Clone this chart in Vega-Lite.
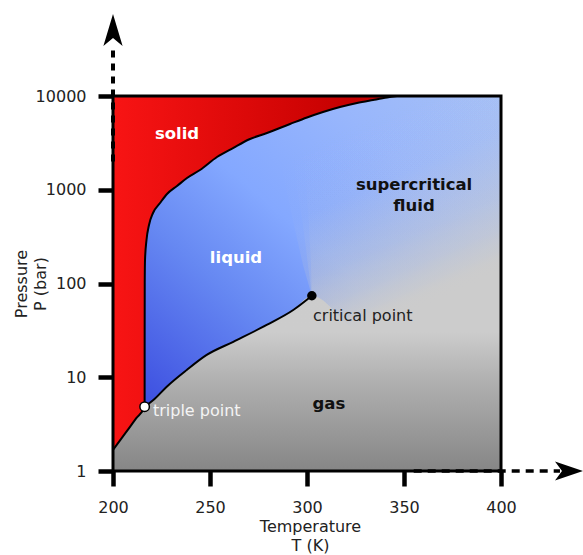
{
  "$schema": "https://vega.github.io/schema/vega-lite/v6.json",
  "width": 388,
  "height": 375,
  "autosize": {"type": "none"},
  "padding": {"left": 113, "top": 96, "right": 82, "bottom": 84},
  "background": "white",
  "config": {"view": {"stroke": null}},
  "datasets": {
    "frame": [{"T": 200, "P": 1, "T2": 400, "P2": 10000}],
    "solid": [
      {"T": 200, "P": 1.675, "P2": 10000}, {"T": 204, "P": 2.17, "P2": 10000}, {"T": 208, "P": 2.82, "P2": 10000},
      {"T": 212, "P": 3.66, "P2": 10000}, {"T": 216.3, "P": 4.85, "P2": 10000}, {"T": 216.32, "P": 32, "P2": 10000},
      {"T": 216.36, "P": 101, "P2": 10000}, {"T": 216.5, "P": 178, "P2": 10000}, {"T": 217.27, "P": 291, "P2": 10000},
      {"T": 218.56, "P": 421, "P2": 10000}, {"T": 220.62, "P": 565, "P2": 10000}, {"T": 224.23, "P": 722, "P2": 10000},
      {"T": 227.84, "P": 901, "P2": 10000}, {"T": 232.99, "P": 1097, "P2": 10000}, {"T": 238.14, "P": 1334, "P2": 10000},
      {"T": 244.85, "P": 1626, "P2": 10000}, {"T": 253.61, "P": 2235, "P2": 10000}, {"T": 261.86, "P": 2788, "P2": 10000},
      {"T": 270.62, "P": 3478, "P2": 10000}, {"T": 279.38, "P": 4031, "P2": 10000}, {"T": 291.24, "P": 5027, "P2": 10000},
      {"T": 300, "P": 5900, "P2": 10000}, {"T": 308.25, "P": 6750, "P2": 10000}, {"T": 317.01, "P": 7631, "P2": 10000},
      {"T": 325.77, "P": 8421, "P2": 10000}, {"T": 334.02, "P": 9064, "P2": 10000}, {"T": 341.24, "P": 9638, "P2": 10000},
      {"T": 346.39, "P": 10000, "P2": 10000}
    ],
    "vapor": [
      {"T": 216.3, "P": 4.85}, {"T": 220.8, "P": 5.71}, {"T": 227.7, "P": 7.93},
      {"T": 238.0, "P": 11.95}, {"T": 248.3, "P": 17.3}, {"T": 262.0, "P": 23.9},
      {"T": 279.2, "P": 36.1}, {"T": 292.9, "P": 52.1}, {"T": 302.5, "P": 74}
    ],
    "liquidfluid": [
      {"T": 216.3, "P": 4.85, "P2": 10000}, {"T": 220.8, "P": 5.71, "P2": 10000}, {"T": 227.7, "P": 7.93, "P2": 10000},
      {"T": 238.0, "P": 11.95, "P2": 10000}, {"T": 248.3, "P": 17.3, "P2": 10000}, {"T": 262.0, "P": 23.9, "P2": 10000},
      {"T": 279.2, "P": 36.1, "P2": 10000}, {"T": 292.9, "P": 52.1, "P2": 10000}, {"T": 302.5, "P": 74, "P2": 10000},
      {"T": 327.3, "P": 31.9, "P2": 10000}, {"T": 400, "P": 31.9, "P2": 10000}
    ],
    "fade1": [
      {"T": 279.9, "P": 10000, "P2": 10000}, {"T": 287.11, "P": 1624, "P2": 10000}, {"T": 293.3, "P": 420.7, "P2": 10000},
      {"T": 297.94, "P": 157.5, "P2": 10000}, {"T": 302.5, "P": 74, "P2": 10000}, {"T": 302.6, "P": 30, "P2": 10000},
      {"T": 400, "P": 30, "P2": 10000}
    ],
    "fade2": [
      {"T": 287.63, "P": 10000, "P2": 10000}, {"T": 293.3, "P": 1624, "P2": 10000}, {"T": 297.94, "P": 420.7, "P2": 10000},
      {"T": 300.52, "P": 157.5, "P2": 10000}, {"T": 302.5, "P": 74, "P2": 10000}, {"T": 302.6, "P": 30, "P2": 10000},
      {"T": 400, "P": 30, "P2": 10000}
    ],
    "fade3": [
      {"T": 295.36, "P": 10000, "P2": 10000}, {"T": 298.97, "P": 1624, "P2": 10000}, {"T": 301.03, "P": 420.7, "P2": 10000},
      {"T": 302.06, "P": 157.5, "P2": 10000}, {"T": 302.5, "P": 74, "P2": 10000}, {"T": 302.6, "P": 30, "P2": 10000},
      {"T": 400, "P": 30, "P2": 10000}
    ],
    "vdash": [{"T": 200, "P": 2000, "P2": 34150}],
    "hdash": [{"T": 355, "T2": 430.4, "P": 1}],
    "uphead": [{"T": 200, "P": 50600}],
    "righthead": [{"T": 435.05, "P": 1}],
    "triple": [{"T": 216.3, "P": 4.85}],
    "critical": [{"T": 302.5, "P": 74}],
    "whiteBold": [{"T": 233.0, "P": 3935, "label": "solid"}, {"T": 263.4, "P": 187, "label": "liquid"}],
    "blackBold": [{"T": 355.2, "P": 1124, "label": "supercritical"}, {"T": 355.2, "P": 671, "label": "fluid"}, {"T": 311.3, "P": 5.18, "label": "gas"}],
    "criticalLabel": [{"T": 303.1, "P": 45, "label": "critical point"}],
    "tripleLabel": [{"T": 220.6, "P": 4.37, "label": "triple point"}]
  },
  "encoding": {
    "x": {
      "field": "T", "type": "quantitative",
      "scale": {"domain": [200, 400], "nice": false, "zero": false},
      "axis": {
        "values": [200, 250, 300, 350, 400], "format": "d",
        "tickSize": 15, "tickWidth": 4.5, "tickColor": "black", "domain": false, "grid": false,
        "labelFont": "DejaVu Sans", "labelFontSize": 16, "labelColor": "#222", "labelPadding": 13,
        "labelFlush": false, "labelOverlap": false,
        "title": ["Temperature", "T (K)"], "titleFont": "DejaVu Sans", "titleFontSize": 16,
        "titleFontWeight": "normal", "titleColor": "#222", "titleBaseline": "top",
        "titleX": 197, "titleY": 47, "titleLineHeight": 19
      }
    },
    "y": {
      "field": "P", "type": "quantitative", "stack": null,
      "scale": {"type": "log", "domain": [1, 10000], "nice": false},
      "axis": {
        "values": [1, 10, 100, 1000, 10000], "format": "d",
        "tickSize": 15, "tickWidth": 4.5, "tickColor": "black", "domain": false, "grid": false,
        "labelFont": "DejaVu Sans", "labelFontSize": 16, "labelColor": "#222", "labelPadding": 12,
        "labelFlush": false, "labelOverlap": false,
        "title": ["Pressure", "P (bar)"], "titleFont": "DejaVu Sans", "titleFontSize": 16,
        "titleFontWeight": "normal", "titleColor": "#222", "titleAngle": -90, "titleBaseline": "top",
        "titleAlign": "center", "titleX": -100, "titleY": 187.5, "titleLineHeight": 19
      }
    }
  },
  "layer": [
    {
      "data": {"name": "frame"},
      "mark": {"type": "rect", "fill": {"gradient": "linear", "x1": 0, "y1": 0, "x2": 0, "y2": 1,
        "stops": [{"offset": 0, "color": "#cdcdcd"}, {"offset": 0.63, "color": "#cccccc"}, {"offset": 0.76, "color": "#b0b0b0"}, {"offset": 1, "color": "#868686"}]}},
      "encoding": {"x2": {"field": "T2"}, "y2": {"field": "P2"}}
    },
    {
      "data": {"name": "liquidfluid"},
      "mark": {"type": "area", "interpolate": "monotone", "fill": {"gradient": "linear", "x1": 0, "y1": 1, "x2": 1, "y2": 0,
        "stops": [{"offset": 0, "color": "#3c4ee0"}, {"offset": 0.3, "color": "#6688f2"}, {"offset": 0.5, "color": "#84a8ff"}, {"offset": 0.75, "color": "#98b6fc"}, {"offset": 1, "color": "#a6c0f6"}]}},
      "encoding": {"y2": {"field": "P2"}}
    },
    {
      "data": {"name": "fade1"},
      "mark": {"type": "area", "fill": {"gradient": "linear", "x1": 0.3429, "y1": 0.1053, "x2": 0.6786, "y2": 0.8837,
        "stops": [{"offset": 0, "color": "rgba(204,204,204,0)"}, {"offset": 0.2, "color": "rgba(204,204,204,0.01)"}, {"offset": 0.35, "color": "rgba(204,204,204,0.0345)"}, {"offset": 0.5, "color": "rgba(204,204,204,0.112)"}, {"offset": 0.65, "color": "rgba(204,204,204,0.206)"}, {"offset": 0.8, "color": "rgba(204,204,204,0.37)"}, {"offset": 0.9, "color": "rgba(204,204,204,0.569)"}, {"offset": 1, "color": "rgba(204,204,204,1)"}]}},
      "encoding": {"y2": {"field": "P2"}}
    },
    {
      "data": {"name": "fade2"},
      "mark": {"type": "area", "fill": {"gradient": "linear", "x1": 0.2977, "y1": 0.1053, "x2": 0.6181, "y2": 0.8993,
        "stops": [{"offset": 0, "color": "rgba(204,204,204,0)"}, {"offset": 0.2, "color": "rgba(204,204,204,0.01)"}, {"offset": 0.35, "color": "rgba(204,204,204,0.0345)"}, {"offset": 0.5, "color": "rgba(204,204,204,0.112)"}, {"offset": 0.65, "color": "rgba(204,204,204,0.206)"}, {"offset": 0.8, "color": "rgba(204,204,204,0.37)"}, {"offset": 0.9, "color": "rgba(204,204,204,0.569)"}, {"offset": 1, "color": "rgba(204,204,204,1)"}]}},
      "encoding": {"y2": {"field": "P2"}}
    },
    {
      "data": {"name": "fade3"},
      "mark": {"type": "area", "fill": {"gradient": "linear", "x1": 0.2458, "y1": 0.1053, "x2": 0.5498, "y2": 0.9142,
        "stops": [{"offset": 0, "color": "rgba(204,204,204,0)"}, {"offset": 0.2, "color": "rgba(204,204,204,0.01)"}, {"offset": 0.35, "color": "rgba(204,204,204,0.0345)"}, {"offset": 0.5, "color": "rgba(204,204,204,0.112)"}, {"offset": 0.65, "color": "rgba(204,204,204,0.206)"}, {"offset": 0.8, "color": "rgba(204,204,204,0.37)"}, {"offset": 0.9, "color": "rgba(204,204,204,0.569)"}, {"offset": 1, "color": "rgba(204,204,204,1)"}]}},
      "encoding": {"y2": {"field": "P2"}}
    },
    {
      "data": {"name": "solid"},
      "mark": {"type": "area", "interpolate": "monotone", "fill": {"gradient": "linear", "x1": 0, "y1": 0, "x2": 1, "y2": 0,
        "stops": [{"offset": 0, "color": "#f81414"}, {"offset": 0.6, "color": "#d40606"}, {"offset": 0.85, "color": "#c40000"}, {"offset": 1, "color": "#c80a0a"}]}},
      "encoding": {"y2": {"field": "P2"}}
    },
    {
      "data": {"name": "solid"},
      "mark": {"type": "line", "interpolate": "monotone", "color": "black", "strokeWidth": 2},
      "encoding": {}
    },
    {
      "data": {"name": "vapor"},
      "mark": {"type": "line", "interpolate": "monotone", "color": "black", "strokeWidth": 2},
      "encoding": {}
    },
    {
      "data": {"name": "frame"},
      "mark": {"type": "rect", "filled": false, "stroke": "black", "strokeWidth": 3},
      "encoding": {"x2": {"field": "T2"}, "y2": {"field": "P2"}}
    },
    {
      "data": {"name": "vdash"},
      "mark": {"type": "rule", "color": "black", "strokeWidth": 4, "strokeDash": [7, 6]},
      "encoding": {"y2": {"field": "P2"}}
    },
    {
      "data": {"name": "hdash"},
      "mark": {"type": "rule", "color": "black", "strokeWidth": 3.5, "strokeDash": [8, 6]},
      "encoding": {"x2": {"field": "T2"}}
    },
    {
      "data": {"name": "uphead"},
      "mark": {"type": "point", "shape": "M0,-1L0.6,1L0,0.5L-0.6,1Z", "filled": true, "color": "black", "opacity": 1, "size": 1024},
      "encoding": {}
    },
    {
      "data": {"name": "righthead"},
      "mark": {"type": "point", "shape": "M1,0L-1,-0.68L-0.5,0L-1,0.68Z", "filled": true, "color": "black", "opacity": 1, "size": 784},
      "encoding": {}
    },
    {
      "data": {"name": "triple"},
      "mark": {"type": "point", "shape": "circle", "filled": true, "fill": "white", "stroke": "black", "strokeWidth": 1.5, "opacity": 1, "size": 90},
      "encoding": {}
    },
    {
      "data": {"name": "critical"},
      "mark": {"type": "point", "shape": "circle", "filled": true, "color": "black", "opacity": 1, "size": 90},
      "encoding": {}
    },
    {
      "data": {"name": "whiteBold"},
      "mark": {"type": "text", "font": "DejaVu Sans", "fontSize": 16.5, "fontWeight": "bold", "color": "white", "align": "center", "baseline": "middle"},
      "encoding": {"text": {"field": "label"}}
    },
    {
      "data": {"name": "blackBold"},
      "mark": {"type": "text", "font": "DejaVu Sans", "fontSize": 16.5, "fontWeight": "bold", "color": "#111", "align": "center", "baseline": "middle"},
      "encoding": {"text": {"field": "label"}}
    },
    {
      "data": {"name": "criticalLabel"},
      "mark": {"type": "text", "font": "DejaVu Sans", "fontSize": 16, "color": "#222", "align": "left", "baseline": "middle"},
      "encoding": {"text": {"field": "label"}}
    },
    {
      "data": {"name": "tripleLabel"},
      "mark": {"type": "text", "font": "DejaVu Sans", "fontSize": 16, "color": "#f4f4f4", "align": "left", "baseline": "middle"},
      "encoding": {"text": {"field": "label"}}
    }
  ]
}
